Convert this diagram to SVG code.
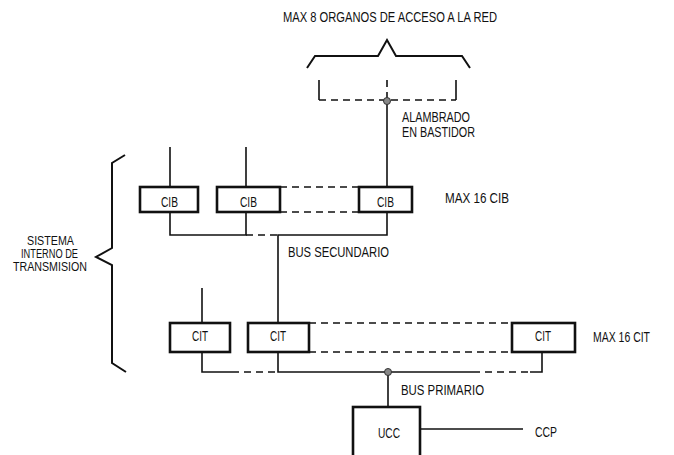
<svg xmlns="http://www.w3.org/2000/svg" width="674" height="455" viewBox="0 0 674 455">
<style>
text{font-family:"Liberation Sans",Arial,sans-serif;font-size:14px;fill:#111}
.s{font-size:12.5px}
.box{fill:#fff;stroke:#111;stroke-width:2.6}
.ln{fill:none;stroke:#111;stroke-width:1.6}
.br{fill:none;stroke:#111;stroke-width:2}
.dash{fill:none;stroke:#111;stroke-width:1.6;stroke-dasharray:7,5}
.dot{fill:#888;stroke:#333;stroke-width:1}
</style>
<rect width="674" height="455" fill="#fff"/>
<g id="labels">
<text x="283" y="22" textLength="214" lengthAdjust="spacingAndGlyphs">MAX 8 ORGANOS DE ACCESO A LA RED</text>
<text x="402" y="122" textLength="68" lengthAdjust="spacingAndGlyphs">ALAMBRADO</text>
<text x="402" y="137" textLength="73" lengthAdjust="spacingAndGlyphs">EN BASTIDOR</text>
<text x="445" y="203" textLength="64" lengthAdjust="spacingAndGlyphs">MAX 16 CIB</text>
<text x="288" y="257" textLength="101" lengthAdjust="spacingAndGlyphs">BUS SECUNDARIO</text>
<text x="593" y="342" textLength="57" lengthAdjust="spacingAndGlyphs">MAX 16 CIT</text>
<text x="401" y="395" textLength="83" lengthAdjust="spacingAndGlyphs">BUS PRIMARIO</text>
<text x="535" y="437" textLength="22" lengthAdjust="spacingAndGlyphs">CCP</text>
<text class="s" x="27" y="245" textLength="47" lengthAdjust="spacingAndGlyphs">SISTEMA</text>
<text class="s" x="21" y="258" textLength="57" lengthAdjust="spacingAndGlyphs">INTERNO DE</text>
<text class="s" x="13" y="271" textLength="74" lengthAdjust="spacingAndGlyphs">TRANSMISION</text>
</g>
<g id="braces">
<path class="br" d="M307,68 L315,56 L378,56 L387,40 L396,56 L462,56 L470,68"/>
<path class="br" d="M125,155 L112,163 L112,248 L96,257 L112,265 L112,363 L126,372"/>
<path class="ln" d="M319,80 L319,100 M456,80 L456,100"/>
<path class="dash" d="M319,100 L456,100 M387,80 L387,100"/>
</g>
<g id="connectors">
<path class="ln" d="M387,101 L387,187"/>
<path class="ln" d="M170,147 L170,187 M246,147 L246,187"/>
<path class="dash" d="M280,187 L359,187 M280,212 L359,212"/>
<path class="ln" d="M170,212 L170,235 L246,235 L246,212"/>
<path class="dash" d="M246,235 L278,235"/>
<path class="ln" d="M278,323 L278,235 L387,235 L387,212"/>
<path class="ln" d="M202,288 L202,323"/>
<path class="dash" d="M309,323 L512,323 M309,352 L512,352"/>
<path class="ln" d="M202,352 L202,372 L232,372"/>
<path class="dash" d="M232,372 L278,372"/>
<path class="ln" d="M278,352 L278,372 L473,372"/>
<path class="dash" d="M473,372 L530,372"/>
<path class="ln" d="M530,372 L542,372 L542,352"/>
<path class="ln" d="M388,372 L388,407"/>
<path class="ln" d="M420,429 L523,429"/>
<circle class="dot" cx="387" cy="101" r="3.5"/>
<circle class="dot" cx="388" cy="372" r="3.5"/>
</g>
<g id="cib1"><rect class="box" x="140" y="187" width="58" height="25"/><text x="161" y="207" textLength="17" lengthAdjust="spacingAndGlyphs">CIB</text></g>
<g id="cib2"><rect class="box" x="217" y="187" width="63" height="25"/><text x="240" y="207" textLength="17" lengthAdjust="spacingAndGlyphs">CIB</text></g>
<g id="cib3"><rect class="box" x="359" y="187" width="53" height="25"/><text x="377" y="207" textLength="17" lengthAdjust="spacingAndGlyphs">CIB</text></g>
<g id="cit1"><rect class="box" x="170" y="323" width="60" height="29"/><text x="192" y="341" textLength="16" lengthAdjust="spacingAndGlyphs">CIT</text></g>
<g id="cit2"><rect class="box" x="248" y="323" width="61" height="29"/><text x="270" y="341" textLength="16" lengthAdjust="spacingAndGlyphs">CIT</text></g>
<g id="cit3"><rect class="box" x="512" y="323" width="63" height="29"/><text x="535" y="341" textLength="16" lengthAdjust="spacingAndGlyphs">CIT</text></g>
<g id="ucc"><rect class="box" x="353" y="407" width="67" height="60"/><text x="378" y="438" textLength="22" lengthAdjust="spacingAndGlyphs">UCC</text></g>
</svg>
